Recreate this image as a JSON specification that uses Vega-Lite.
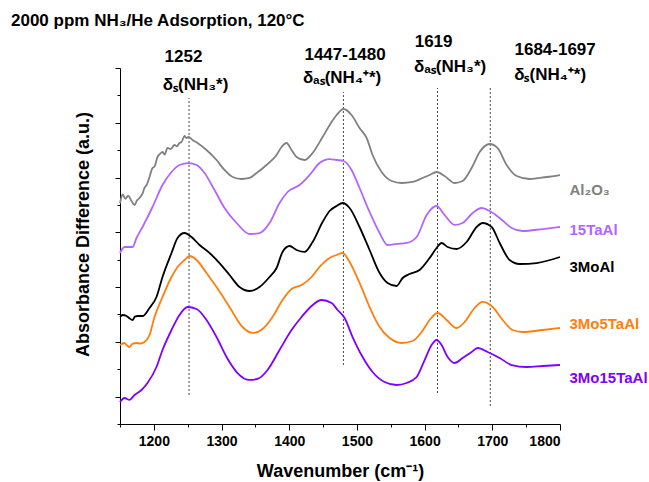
{
  "$schema": "https://vega.github.io/schema/vega-lite/v6.json",
  "width": 440,
  "height": 356,
  "autosize": {"type": "none"},
  "padding": {"left": 120, "top": 68, "right": 89, "bottom": 58},
  "background": "white",
  "config": {
    "view": {"stroke": null},
    "font": "Liberation Sans",
    "text": {"font": "Liberation Sans"}
  },
  "title": {
    "text": "2000 ppm NH₃/He Adsorption, 120°C",
    "anchor": "start",
    "frame": "group",
    "dx": -109,
    "offset": -10,
    "baseline": "alphabetic",
    "font": "Liberation Sans",
    "fontSize": 17,
    "fontWeight": "bold",
    "color": "black"
  },
  "datasets": {
    "spectra": [
      {"s":"Al2O3","x":1150,"y":4.030},{"s":"Al2O3","x":1154,"y":4.190},{"s":"Al2O3","x":1158,"y":4.110},{"s":"Al2O3","x":1162,"y":4.170},{"s":"Al2O3","x":1167,"y":4.070},{"s":"Al2O3","x":1171.4,"y":3.999},{"s":"Al2O3","x":1175,"y":4.080},{"s":"Al2O3","x":1178.8,"y":4.126},{"s":"Al2O3","x":1183,"y":4.200},{"s":"Al2O3","x":1186.2,"y":4.309},{"s":"Al2O3","x":1190,"y":4.380},{"s":"Al2O3","x":1193.6,"y":4.510},{"s":"Al2O3","x":1198.0,"y":4.674},{"s":"Al2O3","x":1201,"y":4.700},{"s":"Al2O3","x":1205.4,"y":4.875},{"s":"Al2O3","x":1209,"y":4.930},{"s":"Al2O3","x":1212.8,"y":4.966},{"s":"Al2O3","x":1216,"y":4.920},{"s":"Al2O3","x":1220.2,"y":5.039},{"s":"Al2O3","x":1225,"y":5.020},{"s":"Al2O3","x":1230.5,"y":5.094},{"s":"Al2O3","x":1234,"y":5.070},{"s":"Al2O3","x":1237.9,"y":5.131},{"s":"Al2O3","x":1241,"y":5.150},{"s":"Al2O3","x":1245.3,"y":5.258},{"s":"Al2O3","x":1248,"y":5.220},{"s":"Al2O3","x":1251.2,"y":5.240},{"s":"Al2O3","x":1257.1,"y":5.185},{"s":"Al2O3","x":1264.5,"y":5.131},{"s":"Al2O3","x":1277.8,"y":5.003},{"s":"Al2O3","x":1292.6,"y":4.820},{"s":"Al2O3","x":1304.4,"y":4.638},{"s":"Al2O3","x":1316.3,"y":4.510},{"s":"Al2O3","x":1329.5,"y":4.473},{"s":"Al2O3","x":1341.4,"y":4.492},{"s":"Al2O3","x":1351.7,"y":4.583},{"s":"Al2O3","x":1366.5,"y":4.729},{"s":"Al2O3","x":1381.3,"y":4.912},{"s":"Al2O3","x":1388.6,"y":5.058},{"s":"Al2O3","x":1396.0,"y":5.131},{"s":"Al2O3","x":1403.4,"y":5.003},{"s":"Al2O3","x":1410.8,"y":4.875},{"s":"Al2O3","x":1422.6,"y":4.820},{"s":"Al2O3","x":1434.5,"y":4.948},{"s":"Al2O3","x":1449.3,"y":5.240},{"s":"Al2O3","x":1462.6,"y":5.514},{"s":"Al2O3","x":1470.0,"y":5.642},{"s":"Al2O3","x":1480.3,"y":5.751},{"s":"Al2O3","x":1492.1,"y":5.642},{"s":"Al2O3","x":1503.9,"y":5.404},{"s":"Al2O3","x":1514.3,"y":5.222},{"s":"Al2O3","x":1523.1,"y":4.912},{"s":"Al2O3","x":1536.5,"y":4.601},{"s":"Al2O3","x":1551.2,"y":4.437},{"s":"Al2O3","x":1566.0,"y":4.400},{"s":"Al2O3","x":1582.3,"y":4.419},{"s":"Al2O3","x":1597.1,"y":4.492},{"s":"Al2O3","x":1607.4,"y":4.546},{"s":"Al2O3","x":1617.7,"y":4.601},{"s":"Al2O3","x":1629.5,"y":4.528},{"s":"Al2O3","x":1644.3,"y":4.400},{"s":"Al2O3","x":1656.1,"y":4.437},{"s":"Al2O3","x":1669.4,"y":4.674},{"s":"Al2O3","x":1681.3,"y":4.966},{"s":"Al2O3","x":1696.1,"y":5.112},{"s":"Al2O3","x":1707.9,"y":5.039},{"s":"Al2O3","x":1721.2,"y":4.729},{"s":"Al2O3","x":1736.0,"y":4.528},{"s":"Al2O3","x":1755.2,"y":4.473},{"s":"Al2O3","x":1780.3,"y":4.510},{"s":"Al2O3","x":1800,"y":4.546},

      {"s":"15TaAl","x":1150,"y":3.122},{"s":"15TaAl","x":1156.7,"y":3.232},{"s":"15TaAl","x":1168.5,"y":3.232},{"s":"15TaAl","x":1174.4,"y":3.396},{"s":"15TaAl","x":1183.3,"y":3.597},{"s":"15TaAl","x":1198.0,"y":3.962},{"s":"15TaAl","x":1212.8,"y":4.364},{"s":"15TaAl","x":1226.1,"y":4.601},{"s":"15TaAl","x":1237.9,"y":4.729},{"s":"15TaAl","x":1251.2,"y":4.765},{"s":"15TaAl","x":1263.1,"y":4.729},{"s":"15TaAl","x":1274.9,"y":4.583},{"s":"15TaAl","x":1289.6,"y":4.272},{"s":"15TaAl","x":1304.4,"y":3.944},{"s":"15TaAl","x":1322.2,"y":3.670},{"s":"15TaAl","x":1341.4,"y":3.469},{"s":"15TaAl","x":1356.1,"y":3.487},{"s":"15TaAl","x":1370.9,"y":3.670},{"s":"15TaAl","x":1385.7,"y":4.035},{"s":"15TaAl","x":1397.5,"y":4.236},{"s":"15TaAl","x":1415.2,"y":4.364},{"s":"15TaAl","x":1430.0,"y":4.546},{"s":"15TaAl","x":1444.8,"y":4.765},{"s":"15TaAl","x":1459.6,"y":4.838},{"s":"15TaAl","x":1470.0,"y":4.820},{"s":"15TaAl","x":1480.3,"y":4.802},{"s":"15TaAl","x":1492.1,"y":4.638},{"s":"15TaAl","x":1503.9,"y":4.309},{"s":"15TaAl","x":1518.7,"y":3.871},{"s":"15TaAl","x":1533.5,"y":3.487},{"s":"15TaAl","x":1545.3,"y":3.268},{"s":"15TaAl","x":1558.6,"y":3.287},{"s":"15TaAl","x":1573.4,"y":3.305},{"s":"15TaAl","x":1588.2,"y":3.414},{"s":"15TaAl","x":1603.0,"y":3.816},{"s":"15TaAl","x":1617.7,"y":3.980},{"s":"15TaAl","x":1629.5,"y":3.816},{"s":"15TaAl","x":1644.3,"y":3.634},{"s":"15TaAl","x":1656.1,"y":3.670},{"s":"15TaAl","x":1670.9,"y":3.853},{"s":"15TaAl","x":1684.2,"y":3.944},{"s":"15TaAl","x":1696.1,"y":3.889},{"s":"15TaAl","x":1710.9,"y":3.761},{"s":"15TaAl","x":1728.6,"y":3.579},{"s":"15TaAl","x":1744.8,"y":3.524},{"s":"15TaAl","x":1774.4,"y":3.560},{"s":"15TaAl","x":1800,"y":3.597},

      {"s":"3MoAl","x":1150,"y":1.954},{"s":"3MoAl","x":1154,"y":1.990},{"s":"3MoAl","x":1159.6,"y":1.972},{"s":"3MoAl","x":1164,"y":1.930},{"s":"3MoAl","x":1168.5,"y":1.899},{"s":"3MoAl","x":1172,"y":1.960},{"s":"3MoAl","x":1175.9,"y":1.972},{"s":"3MoAl","x":1183.3,"y":1.972},{"s":"3MoAl","x":1193.6,"y":2.118},{"s":"3MoAl","x":1203.9,"y":2.319},{"s":"3MoAl","x":1212.8,"y":2.684},{"s":"3MoAl","x":1226.1,"y":3.122},{"s":"3MoAl","x":1235.0,"y":3.396},{"s":"3MoAl","x":1245.3,"y":3.487},{"s":"3MoAl","x":1255.7,"y":3.414},{"s":"3MoAl","x":1267.5,"y":3.268},{"s":"3MoAl","x":1282.3,"y":3.122},{"s":"3MoAl","x":1297.0,"y":2.939},{"s":"3MoAl","x":1311.8,"y":2.721},{"s":"3MoAl","x":1326.6,"y":2.501},{"s":"3MoAl","x":1341.4,"y":2.428},{"s":"3MoAl","x":1356.1,"y":2.501},{"s":"3MoAl","x":1370.9,"y":2.684},{"s":"3MoAl","x":1381.3,"y":2.848},{"s":"3MoAl","x":1390.1,"y":3.141},{"s":"3MoAl","x":1400.5,"y":3.250},{"s":"3MoAl","x":1410.8,"y":3.177},{"s":"3MoAl","x":1422.6,"y":3.141},{"s":"3MoAl","x":1434.5,"y":3.323},{"s":"3MoAl","x":1449.3,"y":3.688},{"s":"3MoAl","x":1459.6,"y":3.889},{"s":"3MoAl","x":1470.0,"y":3.980},{"s":"3MoAl","x":1478.8,"y":4.035},{"s":"3MoAl","x":1489.2,"y":3.944},{"s":"3MoAl","x":1503.9,"y":3.597},{"s":"3MoAl","x":1518.7,"y":3.177},{"s":"3MoAl","x":1533.5,"y":2.757},{"s":"3MoAl","x":1545.3,"y":2.575},{"s":"3MoAl","x":1558.6,"y":2.520},{"s":"3MoAl","x":1567.5,"y":2.666},{"s":"3MoAl","x":1577.8,"y":2.739},{"s":"3MoAl","x":1592.6,"y":2.812},{"s":"3MoAl","x":1607.4,"y":3.031},{"s":"3MoAl","x":1617.7,"y":3.214},{"s":"3MoAl","x":1625.1,"y":3.305},{"s":"3MoAl","x":1634.0,"y":3.232},{"s":"3MoAl","x":1647.3,"y":3.195},{"s":"3MoAl","x":1662.0,"y":3.323},{"s":"3MoAl","x":1676.8,"y":3.597},{"s":"3MoAl","x":1685.7,"y":3.670},{"s":"3MoAl","x":1699.0,"y":3.597},{"s":"3MoAl","x":1710.9,"y":3.305},{"s":"3MoAl","x":1725.6,"y":2.994},{"s":"3MoAl","x":1740.4,"y":2.921},{"s":"3MoAl","x":1765.5,"y":2.939},{"s":"3MoAl","x":1800,"y":3.049},

      {"s":"3Mo5TaAl","x":1150,"y":1.442},{"s":"3Mo5TaAl","x":1156.7,"y":1.479},{"s":"3Mo5TaAl","x":1160,"y":1.440},{"s":"3Mo5TaAl","x":1164.0,"y":1.406},{"s":"3Mo5TaAl","x":1168,"y":1.460},{"s":"3Mo5TaAl","x":1174.4,"y":1.479},{"s":"3Mo5TaAl","x":1180,"y":1.470},{"s":"3Mo5TaAl","x":1186.2,"y":1.497},{"s":"3Mo5TaAl","x":1193.6,"y":1.625},{"s":"3Mo5TaAl","x":1201.0,"y":1.954},{"s":"3Mo5TaAl","x":1212.8,"y":2.319},{"s":"3Mo5TaAl","x":1226.1,"y":2.684},{"s":"3Mo5TaAl","x":1235.0,"y":2.867},{"s":"3Mo5TaAl","x":1245.3,"y":2.994},{"s":"3Mo5TaAl","x":1252.7,"y":3.067},{"s":"3Mo5TaAl","x":1263.1,"y":2.994},{"s":"3Mo5TaAl","x":1277.8,"y":2.757},{"s":"3Mo5TaAl","x":1292.6,"y":2.501},{"s":"3Mo5TaAl","x":1311.8,"y":2.136},{"s":"3Mo5TaAl","x":1331.0,"y":1.771},{"s":"3Mo5TaAl","x":1345.8,"y":1.662},{"s":"3Mo5TaAl","x":1360.6,"y":1.735},{"s":"3Mo5TaAl","x":1375.3,"y":1.954},{"s":"3Mo5TaAl","x":1390.1,"y":2.264},{"s":"3Mo5TaAl","x":1403.4,"y":2.465},{"s":"3Mo5TaAl","x":1418.2,"y":2.538},{"s":"3Mo5TaAl","x":1433.0,"y":2.684},{"s":"3Mo5TaAl","x":1444.8,"y":2.867},{"s":"3Mo5TaAl","x":1459.6,"y":3.031},{"s":"3Mo5TaAl","x":1470.0,"y":3.086},{"s":"3Mo5TaAl","x":1478.8,"y":3.122},{"s":"3Mo5TaAl","x":1489.2,"y":2.958},{"s":"3Mo5TaAl","x":1503.9,"y":2.575},{"s":"3Mo5TaAl","x":1518.7,"y":2.136},{"s":"3Mo5TaAl","x":1533.5,"y":1.771},{"s":"3Mo5TaAl","x":1548.3,"y":1.570},{"s":"3Mo5TaAl","x":1566.0,"y":1.479},{"s":"3Mo5TaAl","x":1582.3,"y":1.516},{"s":"3Mo5TaAl","x":1595.6,"y":1.680},{"s":"3Mo5TaAl","x":1607.4,"y":1.899},{"s":"3Mo5TaAl","x":1619.2,"y":2.027},{"s":"3Mo5TaAl","x":1632.5,"y":1.899},{"s":"3Mo5TaAl","x":1647.3,"y":1.753},{"s":"3Mo5TaAl","x":1659.1,"y":1.862},{"s":"3Mo5TaAl","x":1673.8,"y":2.118},{"s":"3Mo5TaAl","x":1685.7,"y":2.228},{"s":"3Mo5TaAl","x":1700.5,"y":2.136},{"s":"3Mo5TaAl","x":1715.3,"y":1.899},{"s":"3Mo5TaAl","x":1730.0,"y":1.716},{"s":"3Mo5TaAl","x":1744.8,"y":1.680},{"s":"3Mo5TaAl","x":1774.4,"y":1.716},{"s":"3Mo5TaAl","x":1800,"y":1.753},

      {"s":"3Mo15TaAl","x":1150,"y":0.402},{"s":"3Mo15TaAl","x":1156.7,"y":0.475},{"s":"3Mo15TaAl","x":1164.0,"y":0.439},{"s":"3Mo15TaAl","x":1171.4,"y":0.530},{"s":"3Mo15TaAl","x":1181.8,"y":0.621},{"s":"3Mo15TaAl","x":1190.6,"y":0.749},{"s":"3Mo15TaAl","x":1203.9,"y":1.041},{"s":"3Mo15TaAl","x":1212.8,"y":1.351},{"s":"3Mo15TaAl","x":1226.1,"y":1.716},{"s":"3Mo15TaAl","x":1237.9,"y":1.990},{"s":"3Mo15TaAl","x":1249.7,"y":2.136},{"s":"3Mo15TaAl","x":1263.1,"y":2.100},{"s":"3Mo15TaAl","x":1277.8,"y":1.899},{"s":"3Mo15TaAl","x":1292.6,"y":1.588},{"s":"3Mo15TaAl","x":1307.4,"y":1.223},{"s":"3Mo15TaAl","x":1323.6,"y":0.931},{"s":"3Mo15TaAl","x":1341.4,"y":0.804},{"s":"3Mo15TaAl","x":1353.2,"y":0.822},{"s":"3Mo15TaAl","x":1368.0,"y":0.986},{"s":"3Mo15TaAl","x":1385.7,"y":1.351},{"s":"3Mo15TaAl","x":1403.4,"y":1.716},{"s":"3Mo15TaAl","x":1418.2,"y":1.954},{"s":"3Mo15TaAl","x":1433.0,"y":2.155},{"s":"3Mo15TaAl","x":1447.8,"y":2.264},{"s":"3Mo15TaAl","x":1462.6,"y":2.209},{"s":"3Mo15TaAl","x":1471.4,"y":2.082},{"s":"3Mo15TaAl","x":1481.8,"y":1.935},{"s":"3Mo15TaAl","x":1493.6,"y":1.588},{"s":"3Mo15TaAl","x":1508.4,"y":1.223},{"s":"3Mo15TaAl","x":1523.1,"y":0.950},{"s":"3Mo15TaAl","x":1540.9,"y":0.767},{"s":"3Mo15TaAl","x":1558.6,"y":0.712},{"s":"3Mo15TaAl","x":1573.4,"y":0.749},{"s":"3Mo15TaAl","x":1588.2,"y":0.858},{"s":"3Mo15TaAl","x":1600.0,"y":1.168},{"s":"3Mo15TaAl","x":1610.3,"y":1.442},{"s":"3Mo15TaAl","x":1617.7,"y":1.534},{"s":"3Mo15TaAl","x":1625.1,"y":1.442},{"s":"3Mo15TaAl","x":1634.0,"y":1.223},{"s":"3Mo15TaAl","x":1644.3,"y":1.114},{"s":"3Mo15TaAl","x":1656.1,"y":1.205},{"s":"3Mo15TaAl","x":1669.4,"y":1.315},{"s":"3Mo15TaAl","x":1678.3,"y":1.388},{"s":"3Mo15TaAl","x":1693.1,"y":1.315},{"s":"3Mo15TaAl","x":1710.9,"y":1.205},{"s":"3Mo15TaAl","x":1728.6,"y":1.077},{"s":"3Mo15TaAl","x":1750.7,"y":1.041},{"s":"3Mo15TaAl","x":1774.4,"y":1.059},{"s":"3Mo15TaAl","x":1800,"y":1.077}
    ],
    "rules": [
      {"x":1252,"y":0.530,"y2":5.952},
      {"x":1480,"y":1.077,"y2":6.060},
      {"x":1619,"y":0.566,"y2":6.135},
      {"x":1697,"y":0.329,"y2":6.135}
    ],
    "labels": [
      {"s":"Al2O3","t":"Al₂O₃","x":1814,"y":4.273},
      {"s":"15TaAl","t":"15TaAl","x":1814,"y":3.543},
      {"s":"3MoAl","t":"3MoAl","x":1814,"y":2.867},
      {"s":"3Mo5TaAl","t":"3Mo5TaAl","x":1814,"y":1.826},
      {"s":"3Mo15TaAl","t":"3Mo15TaAl","x":1814,"y":0.840}
    ],
    "notes": [
      {"t":"1252","x":1243.8,"y":6.609},
      {"t":"δₛ(NH₃*)","x":1261.6,"y":6.098},
      {"t":"1447-1480","x":1482.5,"y":6.646},
      {"t":"δₐₛ(NH₄⁺*)","x":1478.1,"y":6.226},
      {"t":"1619","x":1613.3,"y":6.883},
      {"t":"δₐₛ(NH₃*)","x":1637.7,"y":6.427},
      {"t":"1684-1697","x":1792.8,"y":6.737},
      {"t":"δₛ(NH₄⁺*)","x":1785.4,"y":6.281}
    ]
  },
  "encoding": {
    "x": {
      "field": "x", "type": "quantitative",
      "scale": {"domain": [1150, 1800], "nice": false, "zero": false},
      "axis": {
        "values": [1150,1200,1250,1300,1350,1400,1450,1500,1550,1600,1650,1700,1750,1800],
        "labelExpr": "datum.value % 100 === 0 ? datum.label : ''",
        "format": "d",
        "tickSize": {"condition": {"test": "datum.value % 100 === 0", "value": 6}, "value": 3},
        "grid": false,
        "domainColor": "black", "tickColor": "black", "labelColor": "black", "titleColor": "black",
        "labelFont": "Liberation Sans", "labelFontSize": 14, "labelFontWeight": "bold",
        "labelPadding": 4,
        "title": "Wavenumber (cm⁻¹)",
        "titleFont": "Liberation Sans", "titleFontSize": 18, "titleFontWeight": "bold",
        "titlePadding": 14
      }
    },
    "y": {
      "field": "y", "type": "quantitative",
      "scale": {"domain": [0, 6.5], "nice": false, "zero": false},
      "axis": {
        "values": [0,0.5,1,1.5,2,2.5,3,3.5,4,4.5,5,5.5,6,6.5],
        "labels": false,
        "tickSize": {"condition": {"test": "datum.value % 1 !== 0", "value": 5}, "value": 3},
        "grid": false,
        "domainColor": "black", "tickColor": "black", "titleColor": "black",
        "title": "Absorbance Difference (a.u.)",
        "titleFont": "Liberation Sans", "titleFontSize": 18, "titleFontWeight": "bold",
        "titlePadding": 22,
        "titleY": 166
      }
    }
  },
  "layer": [
    {
      "data": {"name": "rules"},
      "mark": {"type": "rule", "color": "#444444", "strokeDash": [2, 2], "strokeWidth": 1},
      "encoding": {"y2": {"field": "y2"}}
    },
    {
      "data": {"name": "spectra"},
      "mark": {"type": "line", "strokeWidth": 1.8, "interpolate": "monotone"},
      "encoding": {
        "color": {
          "field": "s", "type": "nominal",
          "scale": {"domain": ["Al2O3","15TaAl","3MoAl","3Mo5TaAl","3Mo15TaAl"], "range": ["#808080","#b266ff","#000000","#ff7f0e","#7f00ff"]},
          "legend": null
        }
      }
    },
    {
      "data": {"name": "labels"},
      "mark": {"type": "text", "align": "left", "baseline": "middle", "font": "Liberation Sans", "fontSize": 15, "fontWeight": "bold"},
      "encoding": {
        "text": {"field": "t"},
        "color": {"field": "s", "type": "nominal", "legend": null}
      }
    },
    {
      "data": {"name": "notes"},
      "mark": {"type": "text", "align": "center", "baseline": "alphabetic", "font": "Liberation Sans", "fontSize": 17, "fontWeight": "bold", "color": "black"},
      "encoding": {"text": {"field": "t"}}
    }
  ]
}
